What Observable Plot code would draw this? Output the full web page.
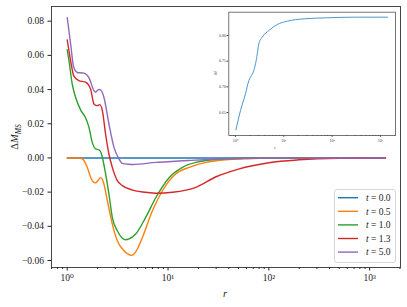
<!DOCTYPE html>
<html><head><meta charset="utf-8">
<script src="https://cdn.jsdelivr.net/npm/d3@7"></script>
<script src="https://cdn.jsdelivr.net/npm/@observablehq/plot@0.6"></script>
<style>
body{margin:0;background:#fff;}
#wrap{position:relative;width:407px;height:307px;overflow:hidden;}
#wrap svg{position:absolute;}
</style></head><body><div id="wrap"></div>
<script>
// ---- data ----
const seriesTimes = ["0.0", "0.5", "1.0", "1.3", "5.0"];

const r_t00 = [1, 1436];
const dm_t00 = [0, 0];

const r_t05 = [1, 1.2, 1.35, 1.45, 1.58, 1.71, 1.84, 1.92, 2.0, 2.14, 2.22, 2.31, 2.5, 2.8, 3.14, 3.66, 4.0, 4.3, 4.6, 5.0, 5.57, 7.0, 8.8, 11.9, 16.2, 23.7, 35, 51, 80, 150, 1436];
const dm_t05 = [0, 0, -0.0002, -0.0012, -0.0055, -0.0114, -0.0143, -0.0146, -0.0135, -0.0115, -0.0122, -0.0152, -0.025, -0.0387, -0.0484, -0.0543, -0.0562, -0.0570, -0.0562, -0.0530, -0.0465, -0.0309, -0.0192, -0.0094, -0.0055, -0.0026, -0.0012, -0.0006, -0.0002, 0, 0];

const r_t10 = [1, 1.04, 1.12, 1.21, 1.36, 1.52, 1.64, 1.77, 1.91, 2.06, 2.15, 2.23, 2.37, 2.59, 2.8, 3.14, 3.5, 3.8, 4.1, 4.78, 6.0, 7.6, 10.3, 13.9, 18.9, 35, 60, 150, 1436];
const dm_t10 = [0.0633, 0.057, 0.0433, 0.0355, 0.028, 0.0235, 0.018, 0.0091, 0.0053, 0.0047, 0.0035, 0.0004, -0.0074, -0.021, -0.0348, -0.0426, -0.0468, -0.0479, -0.0474, -0.0445, -0.0348, -0.023, -0.0114, -0.0055, -0.0026, -0.0006, -0.0002, 0, 0];

const r_t13 = [1, 1.08, 1.16, 1.30, 1.52, 1.71, 1.84, 1.99, 2.1, 2.23, 2.4, 2.59, 2.8, 3.14, 3.52, 4.44, 6.0, 7.6, 11.1, 18.9, 30, 50, 100, 200, 500, 1436];
const dm_t13 = [0.069, 0.057, 0.048, 0.0453, 0.0443, 0.040, 0.0316, 0.0306, 0.0312, 0.0277, 0.014, 0.0023, -0.0055, -0.0133, -0.0162, -0.0188, -0.0201, -0.0207, -0.0201, -0.0172, -0.011, -0.0065, -0.0028, -0.0011, -0.0002, 0];

const r_t50 = [1, 1.08, 1.16, 1.26, 1.46, 1.64, 1.84, 1.91, 2.05, 2.14, 2.31, 2.59, 2.91, 3.26, 3.52, 4.1, 4.5, 7.6, 10, 16, 25, 50, 100, 1436];
const dm_t50 = [0.082, 0.0668, 0.053, 0.050, 0.0496, 0.047, 0.0394, 0.0384, 0.040, 0.0398, 0.0355, 0.020, 0.0062, -0.0006, -0.0032, -0.0037, -0.0038, -0.0026, -0.0022, -0.0015, -0.0009, -0.0003, 0, 0];

// inset curve
const r_inset = [1.02, 1.27, 1.61, 1.89, 2.04, 2.39, 2.68, 3.04, 3.57, 4.9, 7.3, 11.8, 26, 79, 282, 1400];
const m_inset = [0.6163, 0.654, 0.6864, 0.7123, 0.7188, 0.7318, 0.7513, 0.7838, 0.7967, 0.8097, 0.8214, 0.8279, 0.8325, 0.8345, 0.8357, 0.8357];

// ticks
const yTicks = [-0.06, -0.04, -0.02, 0.00, 0.02, 0.04, 0.06, 0.08];
const xMajor = [1, 10, 100, 1000];
const xMinor = [0.7, 0.8, 0.9, 2, 3, 4, 5, 6, 7, 8, 9, 20, 30, 40, 50, 60, 70, 80, 90, 200, 300, 400, 500, 600, 700, 800, 900, 2000];
const insetYTicks = [0.65, 0.70, 0.75, 0.80];

// ---- build ----
const colors = ["#1f77b4", "#ff7f0e", "#2ca02c", "#d62728", "#9467bd"];
const rs = [r_t00, r_t05, r_t10, r_t13, r_t50];
const dms = [dm_t00, dm_t05, dm_t10, dm_t13, dm_t50];
const series = rs.map((r, i) => ({
  color: colors[i],
  data: r.map((v, j) => ({r: v, dm: dms[i][j]}))
}));
const insetData = r_inset.map((v, j) => ({r: v, m: m_inset[j]}));

const supMap = {"0": "\u2070", "1": "\u00b9", "2": "\u00b2", "3": "\u00b3"};
const fmtPow = d => "10" + supMap[String(Math.round(Math.log10(d)))];
const serif = "'Liberation Serif', 'DejaVu Serif', serif";

const main = Plot.plot({
  width: 407, height: 307,
  marginLeft: 51, marginRight: 7, marginTop: 6, marginBottom: 40,
  style: {fontFamily: serif, fontSize: "9.5px", background: "transparent", color: "#222"},
  x: {type: "log", domain: [0.698, 2024]},
  y: {domain: [-0.0641, 0.0886]},
  marks: [
    Plot.axisY({ticks: yTicks, tickFormat: d3.format(".2f"), tickSize: 3.5, tickPadding: 4, label: null, fontSize: 9.5}),
    Plot.axisX({ticks: xMajor, tickFormat: fmtPow, tickSize: 3.5, tickPadding: 3, label: null, fontSize: 9.5}),
    Plot.axisX({ticks: xMinor, tickFormat: () => "", tickSize: 2, label: null}),
    ...series.map(s => Plot.line(s.data, {x: "r", y: "dm", stroke: s.color, strokeWidth: 1.4, curve: "monotone-x"})),
    Plot.frame({stroke: "#333", strokeWidth: 0.9})
  ]
});
document.getElementById("wrap").appendChild(main);
main.style.left = "0px"; main.style.top = "0px";

const svg = d3.select(main);
// y label
const yl = svg.append("text")
  .attr("transform", "translate(18,137) rotate(-90)")
  .attr("text-anchor", "middle")
  .attr("font-family", serif).attr("font-size", 10.5).attr("fill", "#222");
yl.append("tspan").text("\u0394");
yl.append("tspan").attr("font-style", "italic").text("M");
yl.append("tspan").attr("font-style", "italic").attr("font-size", 7.5).attr("dy", 2.5).text("MS");
// x label
svg.append("text").attr("x", 225).attr("y", 297).attr("text-anchor", "middle")
  .attr("font-family", serif).attr("font-size", 10.5).attr("font-style", "italic").attr("fill", "#222").text("r");

// legend
const lg = svg.append("g").attr("text-anchor", "start");
lg.append("rect").attr("x", 334.5).attr("y", 189.5).attr("width", 61).attr("height", 73).attr("rx", 2.5)
  .attr("fill", "white").attr("fill-opacity", 0.8).attr("stroke", "#ccc").attr("stroke-width", 0.8);
seriesTimes.forEach((t, i) => {
  const y = 197.7 + i * 13.6;
  lg.append("line").attr("x1", 338).attr("x2", 358).attr("y1", y).attr("y2", y)
    .attr("stroke", colors[i]).attr("stroke-width", 1.4);
  const tx = lg.append("text").attr("x", 366).attr("y", y).attr("dy", "0.35em")
    .attr("text-anchor", "start")
    .attr("font-family", serif).attr("font-size", 9.5).attr("fill", "#222");
  tx.append("tspan").attr("font-style", "italic").text("t");
  tx.append("tspan").text(" = " + t);
});

// inset
const inset = Plot.plot({
  width: 192, height: 155,
  marginLeft: 20.3, marginRight: 5, marginTop: 11.7, marginBottom: 20,
  style: {fontFamily: serif, fontSize: "4px", background: "transparent", color: "#444"},
  x: {type: "log", domain: [0.726, 2050]},
  y: {domain: [0.6052, 0.8454]},
  marks: [
    Plot.frame({fill: "white", stroke: "none"}),
    Plot.axisY({ticks: insetYTicks, tickFormat: d3.format(".2f"), tickSize: 1.8, tickPadding: 1, label: null, fontSize: 4}),
    Plot.axisX({ticks: xMajor, tickFormat: fmtPow, tickSize: 1.8, tickPadding: 1.5, label: null, fontSize: 4}),
    Plot.axisX({ticks: xMinor.filter(d => d > 0.726), tickFormat: () => "", tickSize: 1, label: null}),
    Plot.line(insetData, {x: "r", y: "m", stroke: "#3a8ac4", strokeWidth: 0.9, curve: "monotone-x"}),
    Plot.frame({stroke: "#555", strokeWidth: 0.8})
  ]
});
document.getElementById("wrap").appendChild(inset);
inset.style.left = "208px"; inset.style.top = "0px";
const isvg = d3.select(inset);
isvg.append("text").attr("transform", "translate(9,73) rotate(-90)").attr("text-anchor", "middle")
  .attr("font-family", serif).attr("font-size", 4.5).attr("font-style", "italic").attr("fill", "#444").text("M");
isvg.append("text").attr("x", 67).attr("y", 149).attr("text-anchor", "middle")
  .attr("font-family", serif).attr("font-size", 4.5).attr("font-style", "italic").attr("fill", "#444").text("r");
</script>
</body></html>
